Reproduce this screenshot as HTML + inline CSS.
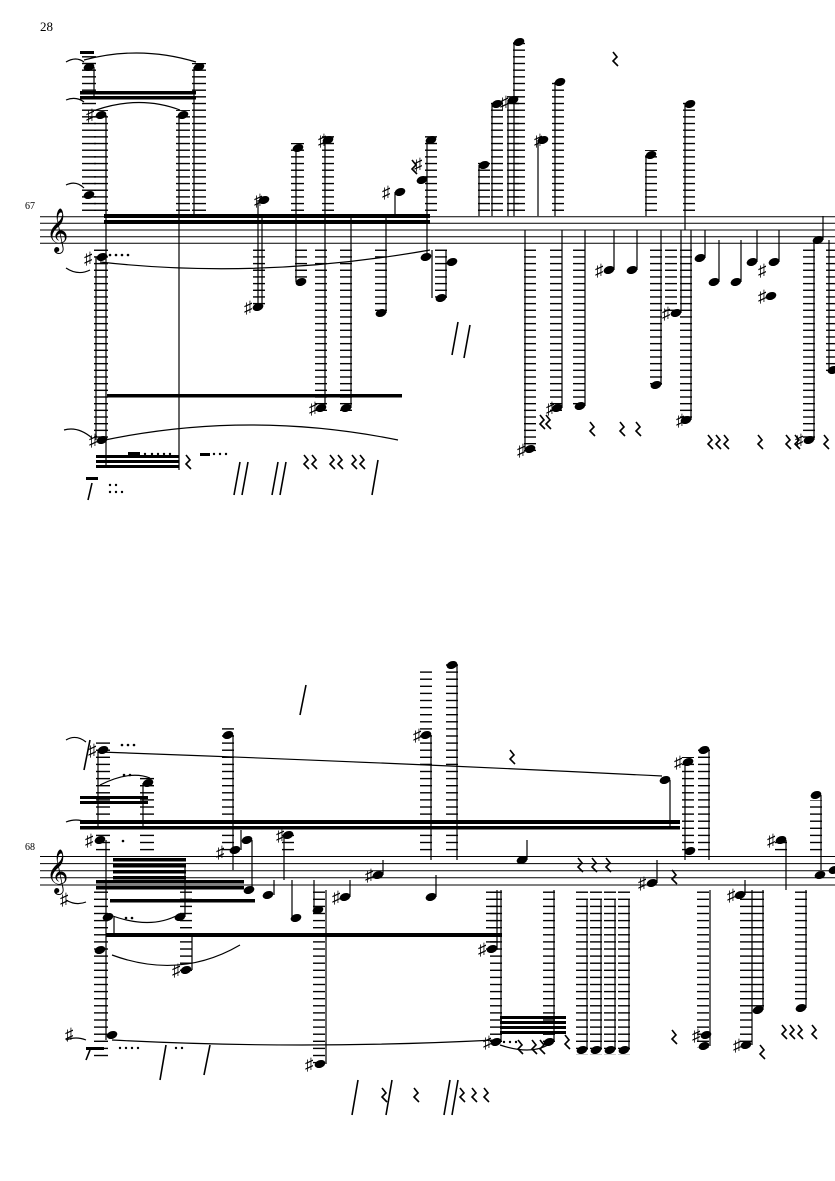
<!DOCTYPE html>
<html><head><meta charset="utf-8"><style>
html,body{margin:0;padding:0;background:#fff;}
svg{display:block;}
text{font-family:"Liberation Serif",serif;}
</style></head><body>
<svg width="835" height="1181" viewBox="0 0 835 1181" xmlns="http://www.w3.org/2000/svg">
<defs>
<pattern id="L1" patternUnits="userSpaceOnUse" x="0" y="216.2" width="20" height="6.67"><rect x="0" y="0" width="20" height="1.4" fill="#000"/></pattern>
<pattern id="L2" patternUnits="userSpaceOnUse" x="0" y="856" width="20" height="7.1"><rect x="0" y="0" width="20" height="1.4" fill="#000"/></pattern>
</defs>
<rect width="835" height="1181" fill="#fff"/>
<text x="40" y="31" font-size="13">28</text>
<text x="25" y="209" font-size="10">67</text>
<text x="25" y="850" font-size="10">68</text>

<g stroke="#000" stroke-width="1">
<line x1="40" y1="216.7" x2="835" y2="216.7"/><line x1="40" y1="223.3" x2="835" y2="223.3"/><line x1="40" y1="230" x2="835" y2="230"/><line x1="40" y1="236.7" x2="835" y2="236.7"/><line x1="40" y1="243.3" x2="835" y2="243.3"/>
<line x1="40" y1="856.5" x2="835" y2="856.5"/><line x1="40" y1="863.6" x2="835" y2="863.6"/><line x1="40" y1="870.7" x2="835" y2="870.7"/><line x1="40" y1="877.8" x2="835" y2="877.8"/><line x1="40" y1="885" x2="835" y2="885"/>
</g>
<text x="46" y="243" font-size="38" font-family="DejaVu Sans">&#x1D11E;</text>
<text x="46" y="884" font-size="38" font-family="DejaVu Sans">&#x1D11E;</text>

<g fill="url(#L1)">
<rect x="82" y="55" width="14" height="160"/>
<rect x="94" y="110" width="14" height="106"/>
<rect x="94" y="248" width="14" height="195"/>
<rect x="176" y="110" width="14" height="106"/>
<rect x="192" y="63" width="14" height="153"/>
<rect x="291" y="143" width="13" height="73"/>
<rect x="295" y="248" width="12" height="35"/>
<rect x="322" y="135" width="12" height="81"/>
<rect x="315" y="248" width="12" height="163"/>
<rect x="340" y="248" width="12" height="163"/>
<rect x="375" y="248" width="12" height="68"/>
<rect x="253" y="248" width="12" height="60"/>
<rect x="425" y="135" width="12" height="81"/>
<rect x="435" y="248" width="12" height="50"/>
<rect x="478" y="160" width="12" height="56"/>
<rect x="491" y="100" width="12" height="116"/>
<rect x="507" y="95" width="12" height="121"/>
<rect x="513" y="38" width="12" height="178"/>
<rect x="524" y="248" width="12" height="205"/>
<rect x="552" y="78" width="12" height="138"/>
<rect x="550" y="248" width="12" height="163"/>
<rect x="573" y="248" width="12" height="160"/>
<rect x="645" y="150" width="12" height="66"/>
<rect x="650" y="248" width="12" height="140"/>
<rect x="683" y="98" width="12" height="118"/>
<rect x="665" y="248" width="12" height="68"/>
<rect x="680" y="248" width="12" height="175"/>
<rect x="803" y="248" width="12" height="195"/>
<rect x="826" y="248" width="9" height="125"/>
</g>
<g fill="url(#L2)">
<rect x="96" y="740" width="14" height="116"/>
<rect x="140" y="775" width="14" height="81"/>
<rect x="94" y="890" width="14" height="170"/>
<rect x="180" y="890" width="12" height="85"/>
<rect x="222" y="728" width="12" height="128"/>
<rect x="282" y="830" width="12" height="26"/>
<rect x="313" y="890" width="12" height="175"/>
<rect x="420" y="668" width="12" height="188"/>
<rect x="446" y="660" width="12" height="196"/>
<rect x="486" y="890" width="12" height="60"/>
<rect x="490" y="890" width="12" height="155"/>
<rect x="543" y="890" width="12" height="155"/>
<rect x="576" y="890" width="12" height="165"/>
<rect x="590" y="890" width="12" height="165"/>
<rect x="604" y="890" width="12" height="165"/>
<rect x="618" y="890" width="12" height="165"/>
<rect x="682" y="757" width="12" height="99"/>
<rect x="698" y="745" width="12" height="111"/>
<rect x="697" y="890" width="12" height="158"/>
<rect x="740" y="890" width="12" height="155"/>
<rect x="752" y="890" width="12" height="120"/>
<rect x="775" y="840" width="12" height="16"/>
<rect x="795" y="890" width="12" height="115"/>
<rect x="810" y="800" width="12" height="56"/>
</g>

<g fill="#000">
<ellipse cx="89" cy="67" rx="5.5" ry="3.8" transform="rotate(-20 89 67)"/>
<ellipse cx="101" cy="115" rx="5.5" ry="3.8" transform="rotate(-20 101 115)"/>
<ellipse cx="89" cy="195" rx="5.5" ry="3.8" transform="rotate(-20 89 195)"/>
<ellipse cx="102" cy="257" rx="5.5" ry="3.8" transform="rotate(-20 102 257)"/>
<ellipse cx="102" cy="440" rx="5.5" ry="3.8" transform="rotate(-20 102 440)"/>
<ellipse cx="183" cy="115" rx="5.5" ry="3.8" transform="rotate(-20 183 115)"/>
<ellipse cx="199" cy="67" rx="5.5" ry="3.8" transform="rotate(-20 199 67)"/>
<ellipse cx="264" cy="200" rx="5.5" ry="3.8" transform="rotate(-20 264 200)"/>
<ellipse cx="258" cy="307" rx="5.5" ry="3.8" transform="rotate(-20 258 307)"/>
<ellipse cx="298" cy="148" rx="5.5" ry="3.8" transform="rotate(-20 298 148)"/>
<ellipse cx="301" cy="282" rx="5.5" ry="3.8" transform="rotate(-20 301 282)"/>
<ellipse cx="328" cy="140" rx="5.5" ry="3.8" transform="rotate(-20 328 140)"/>
<ellipse cx="321" cy="408" rx="5.5" ry="3.8" transform="rotate(-20 321 408)"/>
<ellipse cx="346" cy="408" rx="5.5" ry="3.8" transform="rotate(-20 346 408)"/>
<ellipse cx="381" cy="313" rx="5.5" ry="3.8" transform="rotate(-20 381 313)"/>
<ellipse cx="400" cy="192" rx="5.5" ry="3.8" transform="rotate(-20 400 192)"/>
<ellipse cx="422" cy="180" rx="5.5" ry="3.8" transform="rotate(-20 422 180)"/>
<ellipse cx="431" cy="140" rx="5.5" ry="3.8" transform="rotate(-20 431 140)"/>
<ellipse cx="426" cy="257" rx="5.5" ry="3.8" transform="rotate(-20 426 257)"/>
<ellipse cx="441" cy="298" rx="5.5" ry="3.8" transform="rotate(-20 441 298)"/>
<ellipse cx="452" cy="262" rx="5.5" ry="3.8" transform="rotate(-20 452 262)"/>
<ellipse cx="484" cy="165" rx="5.5" ry="3.8" transform="rotate(-20 484 165)"/>
<ellipse cx="497" cy="104" rx="5.5" ry="3.8" transform="rotate(-20 497 104)"/>
<ellipse cx="513" cy="100" rx="5.5" ry="3.8" transform="rotate(-20 513 100)"/>
<ellipse cx="519" cy="42" rx="5.5" ry="3.8" transform="rotate(-20 519 42)"/>
<ellipse cx="530" cy="449" rx="5.5" ry="3.8" transform="rotate(-20 530 449)"/>
<ellipse cx="543" cy="140" rx="5.5" ry="3.8" transform="rotate(-20 543 140)"/>
<ellipse cx="560" cy="82" rx="5.5" ry="3.8" transform="rotate(-20 560 82)"/>
<ellipse cx="557" cy="408" rx="5.5" ry="3.8" transform="rotate(-20 557 408)"/>
<ellipse cx="580" cy="406" rx="5.5" ry="3.8" transform="rotate(-20 580 406)"/>
<ellipse cx="609" cy="270" rx="5.5" ry="3.8" transform="rotate(-20 609 270)"/>
<ellipse cx="632" cy="270" rx="5.5" ry="3.8" transform="rotate(-20 632 270)"/>
<ellipse cx="651" cy="155" rx="5.5" ry="3.8" transform="rotate(-20 651 155)"/>
<ellipse cx="656" cy="385" rx="5.5" ry="3.8" transform="rotate(-20 656 385)"/>
<ellipse cx="690" cy="104" rx="5.5" ry="3.8" transform="rotate(-20 690 104)"/>
<ellipse cx="676" cy="313" rx="5.5" ry="3.8" transform="rotate(-20 676 313)"/>
<ellipse cx="686" cy="420" rx="5.5" ry="3.8" transform="rotate(-20 686 420)"/>
<ellipse cx="700" cy="258" rx="5.5" ry="3.8" transform="rotate(-20 700 258)"/>
<ellipse cx="714" cy="282" rx="5.5" ry="3.8" transform="rotate(-20 714 282)"/>
<ellipse cx="736" cy="282" rx="5.5" ry="3.8" transform="rotate(-20 736 282)"/>
<ellipse cx="752" cy="262" rx="5.5" ry="3.8" transform="rotate(-20 752 262)"/>
<ellipse cx="774" cy="262" rx="5.5" ry="3.8" transform="rotate(-20 774 262)"/>
<ellipse cx="771" cy="296" rx="5.5" ry="3.8" transform="rotate(-20 771 296)"/>
<ellipse cx="809" cy="440" rx="5.5" ry="3.8" transform="rotate(-20 809 440)"/>
<ellipse cx="818" cy="240" rx="5.5" ry="3.8" transform="rotate(-20 818 240)"/>
<ellipse cx="833" cy="370" rx="5.5" ry="3.8" transform="rotate(-20 833 370)"/>
<ellipse cx="103" cy="750" rx="5.5" ry="3.8" transform="rotate(-20 103 750)"/>
<ellipse cx="100" cy="840" rx="5.5" ry="3.8" transform="rotate(-20 100 840)"/>
<ellipse cx="148" cy="783" rx="5.5" ry="3.8" transform="rotate(-20 148 783)"/>
<ellipse cx="108" cy="917" rx="5.5" ry="3.8" transform="rotate(-20 108 917)"/>
<ellipse cx="100" cy="950" rx="5.5" ry="3.8" transform="rotate(-20 100 950)"/>
<ellipse cx="112" cy="1035" rx="5.5" ry="3.8" transform="rotate(-20 112 1035)"/>
<ellipse cx="180" cy="917" rx="5.5" ry="3.8" transform="rotate(-20 180 917)"/>
<ellipse cx="186" cy="970" rx="5.5" ry="3.8" transform="rotate(-20 186 970)"/>
<ellipse cx="228" cy="735" rx="5.5" ry="3.8" transform="rotate(-20 228 735)"/>
<ellipse cx="235" cy="850" rx="5.5" ry="3.8" transform="rotate(-20 235 850)"/>
<ellipse cx="247" cy="840" rx="5.5" ry="3.8" transform="rotate(-20 247 840)"/>
<ellipse cx="249" cy="890" rx="5.5" ry="3.8" transform="rotate(-20 249 890)"/>
<ellipse cx="268" cy="895" rx="5.5" ry="3.8" transform="rotate(-20 268 895)"/>
<ellipse cx="288" cy="835" rx="5.5" ry="3.8" transform="rotate(-20 288 835)"/>
<ellipse cx="296" cy="918" rx="5.5" ry="3.8" transform="rotate(-20 296 918)"/>
<ellipse cx="318" cy="910" rx="5.5" ry="3.8" transform="rotate(-20 318 910)"/>
<ellipse cx="320" cy="1064" rx="5.5" ry="3.8" transform="rotate(-20 320 1064)"/>
<ellipse cx="345" cy="897" rx="5.5" ry="3.8" transform="rotate(-20 345 897)"/>
<ellipse cx="378" cy="875" rx="5.5" ry="3.8" transform="rotate(-20 378 875)"/>
<ellipse cx="426" cy="735" rx="5.5" ry="3.8" transform="rotate(-20 426 735)"/>
<ellipse cx="452" cy="665" rx="5.5" ry="3.8" transform="rotate(-20 452 665)"/>
<ellipse cx="431" cy="897" rx="5.5" ry="3.8" transform="rotate(-20 431 897)"/>
<ellipse cx="492" cy="949" rx="5.5" ry="3.8" transform="rotate(-20 492 949)"/>
<ellipse cx="496" cy="1042" rx="5.5" ry="3.8" transform="rotate(-20 496 1042)"/>
<ellipse cx="522" cy="860" rx="5.5" ry="3.8" transform="rotate(-20 522 860)"/>
<ellipse cx="549" cy="1042" rx="5.5" ry="3.8" transform="rotate(-20 549 1042)"/>
<ellipse cx="582" cy="1050" rx="5.5" ry="3.8" transform="rotate(-20 582 1050)"/>
<ellipse cx="596" cy="1050" rx="5.5" ry="3.8" transform="rotate(-20 596 1050)"/>
<ellipse cx="610" cy="1050" rx="5.5" ry="3.8" transform="rotate(-20 610 1050)"/>
<ellipse cx="624" cy="1050" rx="5.5" ry="3.8" transform="rotate(-20 624 1050)"/>
<ellipse cx="652" cy="883" rx="5.5" ry="3.8" transform="rotate(-20 652 883)"/>
<ellipse cx="665" cy="780" rx="5.5" ry="3.8" transform="rotate(-20 665 780)"/>
<ellipse cx="688" cy="762" rx="5.5" ry="3.8" transform="rotate(-20 688 762)"/>
<ellipse cx="690" cy="851" rx="5.5" ry="3.8" transform="rotate(-20 690 851)"/>
<ellipse cx="704" cy="750" rx="5.5" ry="3.8" transform="rotate(-20 704 750)"/>
<ellipse cx="704" cy="1046" rx="5.5" ry="3.8" transform="rotate(-20 704 1046)"/>
<ellipse cx="706" cy="1035" rx="5.5" ry="3.8" transform="rotate(-20 706 1035)"/>
<ellipse cx="740" cy="895" rx="5.5" ry="3.8" transform="rotate(-20 740 895)"/>
<ellipse cx="746" cy="1045" rx="5.5" ry="3.8" transform="rotate(-20 746 1045)"/>
<ellipse cx="781" cy="840" rx="5.5" ry="3.8" transform="rotate(-20 781 840)"/>
<ellipse cx="758" cy="1010" rx="5.5" ry="3.8" transform="rotate(-20 758 1010)"/>
<ellipse cx="801" cy="1008" rx="5.5" ry="3.8" transform="rotate(-20 801 1008)"/>
<ellipse cx="816" cy="795" rx="5.5" ry="3.8" transform="rotate(-20 816 795)"/>
<ellipse cx="820" cy="875" rx="5.5" ry="3.8" transform="rotate(-20 820 875)"/>
<ellipse cx="834" cy="870" rx="5.5" ry="3.8" transform="rotate(-20 834 870)"/>
</g>

<g stroke="#000" stroke-width="1.2">
<line x1="94" y1="67" x2="94" y2="98"/><line x1="106" y1="115" x2="106" y2="468"/><line x1="96" y1="257" x2="96" y2="440"/>
<line x1="179" y1="115" x2="179" y2="470"/><line x1="194" y1="67" x2="194" y2="216"/>
<line x1="258" y1="200" x2="258" y2="307"/><line x1="262" y1="307" x2="262" y2="216"/>
<line x1="296" y1="148" x2="296" y2="282"/><line x1="325" y1="140" x2="325" y2="408"/><line x1="351" y1="408" x2="351" y2="216"/>
<line x1="386" y1="313" x2="386" y2="216"/><line x1="395" y1="192" x2="395" y2="216"/><line x1="427" y1="140" x2="427" y2="260"/>
<line x1="432" y1="298" x2="432" y2="250"/><line x1="446" y1="298" x2="446" y2="250"/>
<line x1="479" y1="165" x2="479" y2="216"/><line x1="492" y1="104" x2="492" y2="216"/><line x1="508" y1="100" x2="508" y2="216"/><line x1="514" y1="42" x2="514" y2="216"/>
<line x1="525" y1="449" x2="525" y2="230"/><line x1="538" y1="140" x2="538" y2="216"/><line x1="555" y1="82" x2="555" y2="216"/>
<line x1="562" y1="408" x2="562" y2="230"/><line x1="585" y1="406" x2="585" y2="230"/><line x1="614" y1="270" x2="614" y2="230"/><line x1="637" y1="270" x2="637" y2="230"/>
<line x1="646" y1="155" x2="646" y2="216"/><line x1="661" y1="385" x2="661" y2="230"/><line x1="685" y1="104" x2="685" y2="230"/><line x1="681" y1="313" x2="681" y2="230"/><line x1="691" y1="420" x2="691" y2="230"/>
<line x1="705" y1="258" x2="705" y2="230"/><line x1="719" y1="282" x2="719" y2="240"/><line x1="741" y1="282" x2="741" y2="240"/><line x1="757" y1="262" x2="757" y2="230"/><line x1="779" y1="262" x2="779" y2="230"/>
<line x1="814" y1="440" x2="814" y2="240"/><line x1="823" y1="240" x2="823" y2="216"/><line x1="829" y1="370" x2="829" y2="240"/>
<line x1="98" y1="750" x2="98" y2="828"/><line x1="106" y1="840" x2="106" y2="1040"/><line x1="143" y1="783" x2="143" y2="828"/>
<line x1="114" y1="917" x2="114" y2="937"/><line x1="185" y1="917" x2="185" y2="865"/><line x1="192" y1="970" x2="192" y2="935"/>
<line x1="233" y1="735" x2="233" y2="870"/><line x1="241" y1="850" x2="241" y2="830"/><line x1="252" y1="840" x2="252" y2="890"/>
<line x1="274" y1="895" x2="274" y2="880"/><line x1="284" y1="835" x2="284" y2="880"/><line x1="292" y1="918" x2="292" y2="880"/>
<line x1="314" y1="910" x2="314" y2="880"/><line x1="326" y1="1064" x2="326" y2="890"/><line x1="350" y1="897" x2="350" y2="880"/>
<line x1="383" y1="875" x2="383" y2="860"/><line x1="431" y1="735" x2="431" y2="860"/><line x1="457" y1="665" x2="457" y2="860"/><line x1="436" y1="897" x2="436" y2="875"/>
<line x1="497" y1="949" x2="497" y2="890"/><line x1="501" y1="1042" x2="501" y2="890"/><line x1="527" y1="860" x2="527" y2="840"/>
<line x1="554" y1="1042" x2="554" y2="890"/><line x1="587" y1="1050" x2="587" y2="900"/><line x1="601" y1="1050" x2="601" y2="900"/><line x1="615" y1="1050" x2="615" y2="900"/><line x1="629" y1="1050" x2="629" y2="900"/>
<line x1="657" y1="883" x2="657" y2="860"/><line x1="670" y1="780" x2="670" y2="828"/><line x1="685" y1="762" x2="685" y2="860"/><line x1="709" y1="750" x2="709" y2="860"/>
<line x1="710" y1="1046" x2="710" y2="890"/><line x1="745" y1="895" x2="745" y2="880"/><line x1="752" y1="1045" x2="752" y2="890"/><line x1="786" y1="840" x2="786" y2="890"/>
<line x1="763" y1="1010" x2="763" y2="890"/><line x1="806" y1="1008" x2="806" y2="890"/><line x1="821" y1="795" x2="821" y2="870"/>
</g>

<g fill="#000">
<rect x="80" y="91" width="116" height="3.5"/><rect x="80" y="96" width="116" height="3.5"/><rect x="80" y="51" width="14" height="3"/>
<rect x="104" y="214" width="326" height="4"/><rect x="104" y="220" width="326" height="4"/>
<rect x="107" y="394" width="295" height="3.5"/>
<rect x="96" y="455" width="83" height="3"/><rect x="96" y="460" width="83" height="3"/><rect x="96" y="465" width="83" height="3"/><rect x="128" y="452" width="12" height="3"/><rect x="200" y="453" width="10" height="3"/>
<rect x="86" y="477" width="12" height="3"/>
<rect x="80" y="820" width="600" height="4"/><rect x="80" y="826" width="600" height="3.5"/>
<rect x="80" y="796" width="68" height="3"/><rect x="80" y="801" width="68" height="3"/>
<rect x="113" y="858" width="73" height="3.5"/><rect x="113" y="864" width="73" height="3.5"/><rect x="113" y="870" width="73" height="3.5"/><rect x="113" y="876" width="73" height="3.5"/>
<rect x="96" y="880" width="148" height="3.5"/><rect x="96" y="886" width="148" height="3.5"/>
<rect x="110" y="899" width="145" height="3.5"/>
<rect x="106" y="933" width="396" height="4"/>
<rect x="500" y="1016" width="66" height="3"/><rect x="500" y="1021" width="66" height="3"/><rect x="500" y="1026" width="66" height="3"/><rect x="500" y="1031" width="66" height="3"/>
<rect x="86" y="1047" width="18" height="3"/>
</g>

<g font-size="17" font-family="Liberation Serif" fill="#000">
<text x="86" y="121">♯</text><text x="84" y="264">♯</text><text x="89" y="446">♯</text><text x="254" y="206">♯</text><text x="244" y="313">♯</text>
<text x="318" y="146">♯</text><text x="309" y="414">♯</text><text x="382" y="198">♯</text><text x="414" y="170">♯</text><text x="500" y="108">♯</text>
<text x="534" y="146">♯</text><text x="517" y="456">♯</text><text x="546" y="414">♯</text><text x="595" y="276">♯</text><text x="662" y="319">♯</text>
<text x="676" y="426">♯</text><text x="758" y="276">♯</text><text x="758" y="302">♯</text><text x="795" y="446">♯</text>
<text x="88" y="756">♯</text><text x="85" y="846">♯</text><text x="60" y="905">♯</text><text x="65" y="1040">♯</text><text x="172" y="976">♯</text>
<text x="216" y="858">♯</text><text x="276" y="841">♯</text><text x="305" y="1070">♯</text><text x="332" y="903">♯</text><text x="365" y="881">♯</text>
<text x="413" y="741">♯</text><text x="478" y="955">♯</text><text x="483" y="1048">♯</text><text x="638" y="889">♯</text><text x="674" y="768">♯</text>
<text x="692" y="1041">♯</text><text x="733" y="1051">♯</text><text x="767" y="846">♯</text><text x="727" y="901">♯</text>
</g>

<g fill="none" stroke="#000" stroke-width="1.2">
<path d="M84 60 Q140 45 196 62"/><path d="M96 110 Q140 95 180 110"/><path d="M100 262 Q260 280 430 250"/><path d="M105 440 Q250 410 398 440"/>
<path d="M66 185 Q76 180 84 188"/><path d="M66 268 Q78 276 90 270"/><path d="M64 430 Q78 426 92 438"/><path d="M66 100 Q76 96 84 102"/><path d="M66 62 Q76 56 84 62"/>
<path d="M100 752 Q380 762 662 776"/><path d="M100 785 Q130 770 150 778"/><path d="M110 915 Q150 930 178 915"/><path d="M112 955 Q180 980 240 945"/>
<path d="M112 1040 Q300 1050 495 1040"/><path d="M500 1045 Q530 1055 548 1045"/>
<path d="M66 740 Q76 734 86 742"/><path d="M66 822 Q76 818 86 822"/><path d="M66 900 Q76 906 86 902"/><path d="M66 1040 Q76 1036 86 1040"/>
</g>

<g fill="none" stroke="#000" stroke-width="1.6">
<path d="M613 52 l4 5 -4 4 5 5"/><path d="M510 750 l4 5 -4 4 5 5"/><path d="M186 455 l4 5 -4 4 5 5"/>
<path d="M540 415 l4 5 -4 4 5 5"/><path d="M546 415 l4 5 -4 4 5 5"/>
<path d="M590 422 l4 5 -4 4 5 5"/><path d="M620 422 l4 5 -4 4 5 5"/><path d="M636 422 l4 5 -4 4 5 5"/>
<path d="M708 435 l4 5 -4 4 5 5"/><path d="M716 435 l4 5 -4 4 5 5"/><path d="M724 435 l4 5 -4 4 5 5"/><path d="M758 435 l4 5 -4 4 5 5"/><path d="M786 435 l4 5 -4 4 5 5"/><path d="M795 435 l4 5 -4 4 5 5"/><path d="M824 435 l4 5 -4 4 5 5"/>
<path d="M304 455 l4 5 -4 4 5 5"/><path d="M312 455 l4 5 -4 4 5 5"/><path d="M330 455 l4 5 -4 4 5 5"/><path d="M338 455 l4 5 -4 4 5 5"/><path d="M352 455 l4 5 -4 4 5 5"/><path d="M360 455 l4 5 -4 4 5 5"/>
<path d="M672 1030 l4 5 -4 4 5 5"/><path d="M760 1045 l4 5 -4 4 5 5"/>
<path d="M782 1025 l4 5 -4 4 5 5"/><path d="M790 1025 l4 5 -4 4 5 5"/><path d="M798 1025 l4 5 -4 4 5 5"/><path d="M812 1025 l4 5 -4 4 5 5"/>
<path d="M518 1040 l4 5 -4 4 5 5"/><path d="M532 1040 l4 5 -4 4 5 5"/><path d="M540 1040 l4 5 -4 4 5 5"/><path d="M565 1035 l4 5 -4 4 5 5"/>
<path d="M578 858 l4 5 -4 4 5 5"/><path d="M592 858 l4 5 -4 4 5 5"/><path d="M606 858 l4 5 -4 4 5 5"/><path d="M672 870 l4 5 -4 4 5 5"/>
<path d="M414 1088 l4 5 -4 4 5 5"/><path d="M460 1088 l4 5 -4 4 5 5"/><path d="M472 1088 l4 5 -4 4 5 5"/><path d="M484 1088 l4 5 -4 4 5 5"/><path d="M382 1088 l4 5 -4 4 5 5"/>
<path d="M412 160 l4 5 -4 4 5 5"/>
</g>
<g stroke="#000" stroke-width="1.6">
<line x1="234" y1="495" x2="240" y2="462"/><line x1="242" y1="495" x2="248" y2="462"/><line x1="272" y1="495" x2="278" y2="462"/><line x1="280" y1="495" x2="286" y2="462"/>
<line x1="372" y1="495" x2="378" y2="460"/><line x1="452" y1="355" x2="458" y2="322"/><line x1="464" y1="358" x2="470" y2="325"/>
<line x1="300" y1="715" x2="306" y2="685"/><line x1="84" y1="770" x2="90" y2="740"/><line x1="160" y1="1080" x2="166" y2="1045"/><line x1="204" y1="1075" x2="210" y2="1045"/>
<line x1="352" y1="1115" x2="358" y2="1080"/><line x1="386" y1="1115" x2="392" y2="1080"/><line x1="444" y1="1115" x2="450" y2="1080"/><line x1="452" y1="1115" x2="458" y2="1080"/>
<line x1="88" y1="500" x2="92" y2="483"/><line x1="86" y1="1060" x2="90" y2="1050"/>
</g>
<g fill="#000">
<circle cx="110" cy="255" r="1.3"/><circle cx="116" cy="255" r="1.3"/><circle cx="122" cy="255" r="1.3"/><circle cx="128" cy="255" r="1.3"/>
<circle cx="110" cy="485" r="1.2"/><circle cx="116" cy="485" r="1.2"/><circle cx="110" cy="492" r="1.2"/><circle cx="116" cy="492" r="1.2"/><circle cx="122" cy="492" r="1.2"/>
<circle cx="145" cy="454" r="1.2"/><circle cx="152" cy="454" r="1.2"/><circle cx="158" cy="454" r="1.2"/><circle cx="164" cy="454" r="1.2"/><circle cx="170" cy="454" r="1.2"/>
<circle cx="214" cy="454" r="1.2"/><circle cx="220" cy="454" r="1.2"/><circle cx="226" cy="454" r="1.2"/>
<circle cx="122" cy="745" r="1.3"/><circle cx="128" cy="745" r="1.3"/><circle cx="134" cy="745" r="1.3"/><circle cx="124" cy="775" r="1.3"/><circle cx="130" cy="775" r="1.3"/>
<circle cx="123" cy="841" r="1.3"/><circle cx="126" cy="918" r="1.3"/><circle cx="132" cy="918" r="1.3"/>
<circle cx="120" cy="1048" r="1.2"/><circle cx="126" cy="1048" r="1.2"/><circle cx="132" cy="1048" r="1.2"/><circle cx="138" cy="1048" r="1.2"/><circle cx="176" cy="1048" r="1.2"/><circle cx="182" cy="1048" r="1.2"/>
<circle cx="504" cy="1042" r="1.2"/><circle cx="510" cy="1042" r="1.2"/><circle cx="516" cy="1042" r="1.2"/>
</g>
</svg>
</body></html>
